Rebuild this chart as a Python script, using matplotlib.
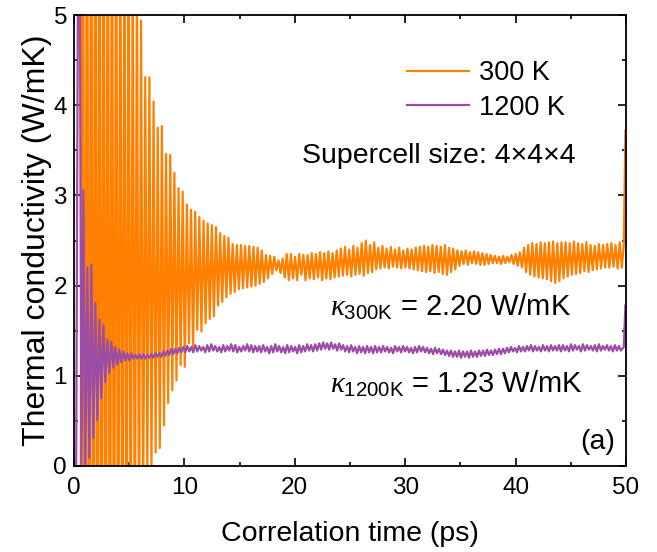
import numpy as np
import matplotlib
matplotlib.use("Agg")
import matplotlib.pyplot as plt

# ---------------- data ----------------
# 300 K: extrema of the oscillating running integral (peak i at T0 + i*P, trough at T0 + (i+0.5)*P)
T0_300 = 0.8
P_300 = 0.377
peaks_300 = [10.5, 10.0, 9.6, 9.2, 8.8, 8.4, 8.0, 7.6, 7.2, 6.8, 6.4, 6.0, 5.7, 5.4,
             4.94, 4.31, 4.31, 4.04, 3.75, 3.77, 3.46, 3.45, 3.25, 3.08, 3.04, 2.90,
             2.84, 2.82, 2.76, 2.72, 2.69, 2.67, 2.65, 2.58, 2.55, 2.53, 2.46, 2.45,
             2.45, 2.44, 2.44, 2.43, 2.42, 2.39, 2.34, 2.33, 2.32, 2.28, 2.30, 2.35,
             2.35, 2.32, 2.35, 2.34, 2.34,
             2.36, 2.35, 2.37, 2.36, 2.38, 2.36, 2.39,
             2.41, 2.43, 2.40, 2.44, 2.42, 2.47, 2.50, 2.45,
             2.48, 2.42, 2.44, 2.41, 2.43, 2.40, 2.42, 2.39, 2.41, 2.40,
             2.42, 2.43, 2.44, 2.43, 2.45, 2.44, 2.43, 2.45, 2.42, 2.41,
             2.39, 2.38, 2.39, 2.37, 2.38, 2.37,
             2.36, 2.35, 2.34, 2.33, 2.32, 2.33, 2.32, 2.34, 2.35, 2.37,
             2.42, 2.45, 2.47, 2.46, 2.48, 2.47, 2.48, 2.49, 2.47, 2.48,
             2.48, 2.47, 2.49, 2.47, 2.46, 2.48, 2.45, 2.44, 2.46, 2.45,
             2.46, 2.47, 2.45, 2.48]
troughs_300 = [-6.1, -5.6, -5.2, -4.8, -4.4, -4.0, -3.6, -3.2, -2.8, -2.4, -2.0, -1.6,
               -1.3, -1.0, -0.6, -0.2, -0.05,
               0.15, 0.20, 0.45, 0.70, 0.84, 0.95, 1.12, 1.10, 1.36, 1.29, 1.51, 1.49,
               1.58, 1.63, 1.66, 1.78, 1.82, 1.87, 1.91, 1.93, 1.96, 1.97, 1.98, 1.99,
               2.00, 2.02, 2.04, 2.08, 2.13, 2.17, 2.14, 2.09, 2.06, 2.08, 2.06, 2.12,
               2.06, 2.08,
               2.07, 2.09, 2.06, 2.08, 2.07, 2.09, 2.10,
               2.11, 2.12, 2.10, 2.12, 2.13, 2.11, 2.14, 2.15,
               2.18, 2.19, 2.20, 2.19, 2.21, 2.20, 2.19, 2.20, 2.19, 2.18,
               2.17, 2.16, 2.15, 2.16, 2.14, 2.15, 2.13, 2.12, 2.15, 2.18,
               2.22, 2.24, 2.23, 2.25, 2.24, 2.23,
               2.23, 2.24, 2.25, 2.25, 2.24, 2.25, 2.26, 2.24, 2.22, 2.20,
               2.15, 2.12, 2.10, 2.09, 2.08, 2.07, 2.05, 2.03, 2.05, 2.08,
               2.10, 2.12, 2.13, 2.14, 2.16, 2.15, 2.17, 2.18, 2.19, 2.20,
               2.20, 2.21, 2.19, 2.20]
head_300_t = [0.62]
head_300_k = [0.0]
tail_300_t = [49.8, 49.95]
tail_300_k = [2.45, 3.72]

# 1200 K
T0_1200 = 0.85
P_1200 = 0.362
peaks_1200 = [3.06, 2.20, 2.23, 1.81, 1.62, 1.56, 1.40, 1.38, 1.32, 1.29, 1.27, 1.25, 1.25, 1.23, 1.24,
              1.24, 1.23, 1.24, 1.25, 1.25,
              1.27, 1.28, 1.30, 1.30, 1.31, 1.32,
              1.33, 1.32, 1.34, 1.33, 1.32, 1.34, 1.35, 1.33, 1.32, 1.34, 1.33, 1.35, 1.34, 1.32, 1.33, 1.35, 1.34, 1.33,
              1.33, 1.34, 1.32, 1.33, 1.35, 1.33, 1.32, 1.34, 1.33, 1.32, 1.34, 1.33, 1.35, 1.34, 1.35,
              1.36, 1.37, 1.36, 1.37, 1.35, 1.36,
              1.34, 1.33, 1.34, 1.32, 1.33, 1.32, 1.33, 1.32, 1.33,
              1.32, 1.33, 1.32, 1.31, 1.33, 1.32, 1.33, 1.32, 1.31, 1.32, 1.33, 1.32, 1.31, 1.30, 1.31,
              1.30, 1.29, 1.28, 1.28, 1.27, 1.28, 1.27, 1.27, 1.28, 1.27, 1.28, 1.28, 1.29, 1.28, 1.29, 1.30, 1.30,
              1.31, 1.32, 1.31, 1.33, 1.32, 1.33, 1.34, 1.33, 1.32, 1.34, 1.33, 1.34, 1.33, 1.34,
              1.34, 1.33, 1.35, 1.34, 1.33, 1.35, 1.34, 1.33, 1.34, 1.35, 1.33, 1.34, 1.33, 1.34, 1.33]
troughs_1200 = [0.0, 0.09, 0.31, 0.51, 0.75, 0.93, 1.03, 1.09, 1.12, 1.15, 1.17, 1.17, 1.19, 1.19, 1.19,
                1.19, 1.20, 1.20, 1.21, 1.21,
                1.22, 1.23, 1.24, 1.25, 1.26, 1.26,
                1.27, 1.26, 1.27, 1.28, 1.26, 1.27, 1.28, 1.27, 1.26, 1.27, 1.28, 1.27, 1.26, 1.27, 1.28, 1.27, 1.26, 1.27,
                1.26, 1.27, 1.25, 1.26, 1.27, 1.26, 1.25, 1.26, 1.27, 1.25, 1.26, 1.27, 1.28, 1.27, 1.28,
                1.29, 1.30, 1.29, 1.30, 1.28, 1.29,
                1.27, 1.26, 1.27, 1.25, 1.26, 1.25, 1.26, 1.25, 1.26,
                1.26, 1.27, 1.26, 1.25, 1.27, 1.26, 1.27, 1.26, 1.25, 1.26, 1.27, 1.26, 1.25, 1.24, 1.25,
                1.24, 1.23, 1.22, 1.21, 1.21, 1.20, 1.21, 1.20, 1.21, 1.21, 1.22, 1.22, 1.23, 1.23, 1.24, 1.24, 1.25,
                1.26, 1.27, 1.26, 1.27, 1.27, 1.28, 1.27, 1.28, 1.27, 1.28, 1.27, 1.28, 1.28, 1.27,
                1.28, 1.27, 1.28, 1.29, 1.27, 1.28, 1.29, 1.28, 1.27, 1.28, 1.29, 1.28, 1.27, 1.28, 1.28]
head_1200_t = [0.0, 0.2, 0.45, 0.68]
head_1200_k = [0.0, 0.0, 8.5, -0.2]
tail_1200_t = [49.8, 49.95]
tail_1200_k = [1.32, 1.78]

labels = ["300 K", "1200 K"]
kappa_300 = 2.20
kappa_1200 = 1.23


def build(t0, period, peaks, troughs, head_t, head_k, tail_t, tail_k):
    peaks = np.asarray(peaks, float)
    troughs = np.asarray(troughs, float)
    n = len(peaks)
    tp = t0 + period * np.arange(n)
    tt = tp + 0.5 * period
    t = np.column_stack([tp, tt]).ravel()
    k = np.column_stack([peaks, troughs]).ravel()
    t = np.concatenate([head_t, t, tail_t])
    k = np.concatenate([head_k, k, tail_k])
    return t, k


t300, k300 = build(T0_300, P_300, peaks_300, troughs_300, head_300_t, head_300_k, tail_300_t, tail_300_k)
t1200, k1200 = build(T0_1200, P_1200, peaks_1200, troughs_1200, head_1200_t, head_1200_k, tail_1200_t, tail_1200_k)

# ---------------- style ----------------
plt.rcParams['font.family'] = ['Liberation Sans', 'DejaVu Sans']
plt.rcParams['mathtext.fontset'] = 'custom'
plt.rcParams['mathtext.rm'] = 'Liberation Sans'
plt.rcParams['mathtext.it'] = 'Liberation Serif:italic'
plt.rcParams['mathtext.bf'] = 'Liberation Sans:bold'

ORANGE = '#FF8000'
PURPLE = '#9B4DA6'

fig = plt.figure(figsize=(6.57, 5.52), dpi=100)
ax = fig.add_axes([0.1126, 0.1558, 0.8402, 0.8170])

ax.plot(t300, k300, color=ORANGE, lw=1.6, label=labels[0])
ax.plot(t1200, k1200, color=PURPLE, lw=1.6, label=labels[1])

ax.set_xlim(0, 50)
ax.set_ylim(0, 5)
ax.set_xticks([0, 10, 20, 30, 40, 50])
ax.set_xticks([5, 15, 25, 35, 45], minor=True)
ax.set_yticks([0, 1, 2, 3, 4, 5])
ax.set_yticks([0.5, 1.5, 2.5, 3.5, 4.5], minor=True)
ax.tick_params(which='both', direction='in', top=True, right=True, width=1.2,
               labelsize=17.5)
ax.tick_params(axis='x', which='both', pad=8)
ax.tick_params(axis='y', which='both', pad=5)
ax.tick_params(which='major', length=5.5)
ax.tick_params(which='minor', length=3)
for s in ax.spines.values():
    s.set_linewidth(1.3)

ax.set_xlabel('Correlation time (ps)', fontsize=20.5, labelpad=16)
ax.set_ylabel('Thermal conductivity (W/mK)', fontsize=23, labelpad=1)

ax.legend(loc='upper right', bbox_to_anchor=(0.889, 0.900), frameon=False,
          fontsize=19.5, handlelength=2.3, handletextpad=0.35, labelspacing=0.31,
          borderpad=0, borderaxespad=0)

ax.text(20.65, 3.36, 'Supercell size: 4\u00d74\u00d74', fontsize=20.5, ha='left', va='baseline')
ax.text(23.2, 1.67, r'$\kappa_{\mathrm{300K}}$' + f' = {kappa_300:.2f} W/mK', fontsize=21,
        ha='left', va='baseline')
ax.text(23.2, 0.81, r'$\kappa_{\mathrm{1200K}}$' + f' = {kappa_1200:.2f} W/mK', fontsize=21,
        ha='left', va='baseline')
ax.text(49.0, 0.19, '(a)', fontsize=20.5, ha='right', va='baseline')

fig.savefig('out.png', dpi=100)
